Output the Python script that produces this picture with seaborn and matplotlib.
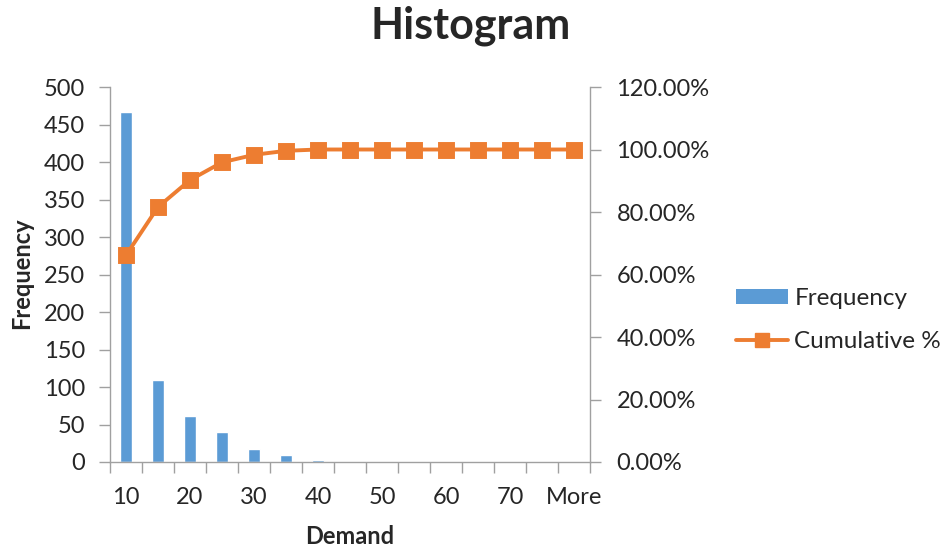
import matplotlib
matplotlib.use("Agg")
import matplotlib.pyplot as plt
import seaborn as sns
import pandas as pd
from matplotlib.patches import Patch
from matplotlib.lines import Line2D
from matplotlib.ticker import FixedLocator, FuncFormatter

# ---- data ----
bins = ["10", "15", "20", "25", "30", "35", "40", "45", "50", "55",
        "60", "65", "70", "75", "More"]
frequency = [467, 109, 61, 40, 17, 9, 3, 0, 0, 0, 0, 0, 0, 0, 0]
cumulative_pct = [66.15, 81.59, 90.23, 95.89, 98.30, 99.58, 100.0, 100.0,
                  100.0, 100.0, 100.0, 100.0, 100.0, 100.0, 100.0]
shown_labels = ["10", "20", "30", "40", "50", "60", "70", "More"]

title = "Histogram"
xlabel = "Demand"
ylabel = "Frequency"

BLUE = "#5B9BD5"
ORANGE = "#ED7D31"
GRAY = "#A0A0A0"

sns.set_theme(style="white")
plt.rcParams["font.family"] = ["Lato", "DejaVu Sans"]

df = pd.DataFrame({"bin": bins, "Frequency": frequency, "Cumulative %": cumulative_pct})

fig = plt.figure(figsize=(9.46, 5.48), dpi=100)
W, H = 946, 548
ax = fig.add_axes([110 / W, 1 - 462 / H, 480 / W, 375 / H])

sns.barplot(data=df, x="bin", y="Frequency", color=BLUE, width=0.4,
            saturation=1, ax=ax, order=bins)

ax2 = ax.twinx()
sns.pointplot(data=df, x="bin", y="Cumulative %", color=ORANGE, order=bins,
              markers="s", linestyles="-", markersize=10.5, linewidth=2.8, ax=ax2)

for a in (ax, ax2):
    a.set_xlim(-0.5, len(bins) - 0.5)
ax.set_ylim(0, 500)
ax2.set_ylim(0, 120)

ax.set_yticks(range(0, 501, 50))
ax2.set_yticks(range(0, 121, 20))
ax2.yaxis.set_major_formatter(FuncFormatter(lambda v, p: f"{v:.2f}%"))

TS = 17
label_pos = [i for i, b in enumerate(bins) if b in shown_labels]
ax.xaxis.set_major_locator(FixedLocator(label_pos))
ax.set_xticklabels(shown_labels)
ax.xaxis.set_minor_locator(FixedLocator([i - 0.5 for i in range(len(bins) + 1)]))
ax.tick_params(axis="x", which="major", length=0, pad=18, labelsize=TS)
ax.tick_params(axis="x", which="minor", length=8, width=1, color=GRAY,
               direction="out", bottom=True)
ax.tick_params(axis="y", length=8, width=1, color=GRAY, direction="out",
               left=True, labelsize=TS, pad=10)
ax2.tick_params(axis="y", length=8, width=1, color=GRAY, direction="out",
                right=True, labelsize=TS, pad=11)
ax2.tick_params(axis="x", length=0)

for a in (ax, ax2):
    a.spines["top"].set_visible(False)
    for s in ("left", "right", "bottom"):
        a.spines[s].set_color(GRAY)
        a.spines[s].set_linewidth(1)
ax.spines["right"].set_visible(False)
ax2.spines["left"].set_visible(False)
ax2.spines["bottom"].set_visible(False)

ax.set_xlabel("")
ax.set_ylabel("")
ax2.set_ylabel("")
ax2.set_xlabel("")
fig.text(350 / W, 1 - 537 / H, xlabel, ha="center", va="center",
         fontsize=17, fontweight="bold")
fig.text(22 / W, 1 - 273 / H, ylabel, ha="center", va="center",
         rotation=90, fontsize=17, fontweight="bold")

fig.text(471 / W, 1 - 26 / H, title, ha="center", va="center",
         fontsize=31, fontweight="bold")

handles = [Patch(facecolor=BLUE, edgecolor="none"),
           Line2D([], [], color=ORANGE, lw=2.8, marker="s", markersize=10.5)]
fig.legend(handles, ["Frequency", "Cumulative %"], loc="center left",
           bbox_to_anchor=(736 / W, 1 - 320 / H), frameon=False, fontsize=17.5,
           handlelength=2.15, handleheight=0.58, handletextpad=0.25,
           labelspacing=0.9, borderaxespad=0, borderpad=0)

fig.savefig("out.png", dpi=100)
